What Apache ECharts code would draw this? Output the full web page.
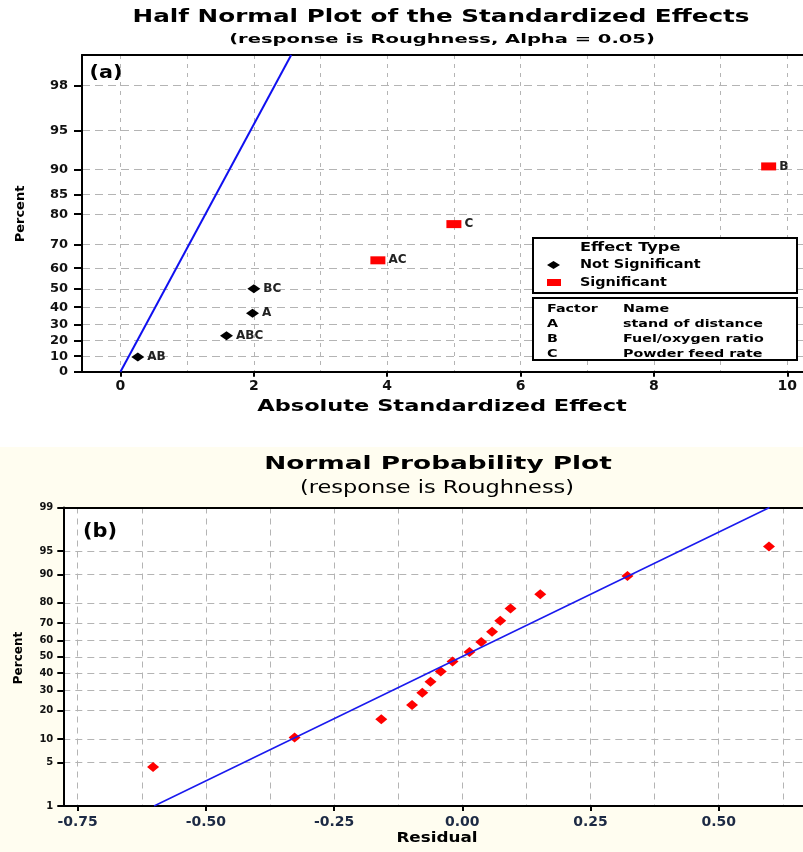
<!DOCTYPE html>
<html>
<head>
<meta charset="utf-8">
<script src="https://cdn.jsdelivr.net/npm/echarts@6/dist/echarts.min.js"></script>
<style>
  html, body { margin: 0; padding: 0; background: #fff; }
  #chart { width: 803px; height: 852px; }
</style>
</head>
<body>
<div id="chart"></div>
<script>
// (a) half normal plot of the standardized effects
const effectNames = ['AB', 'ABC', 'A', 'BC', 'AC', 'C', 'B']
const effectValues = [0.26, 1.59, 1.98, 2.0, 3.86, 5.0, 9.72]
const effectPercent = [9.5, 23.0, 36.5, 50.0, 63.5, 77.0, 90.5]
const effectSignificant = [false, false, false, false, true, true, true]
const halfLineEffect = [0, 2.56]
const halfLinePercent = [0, 99]
const halfPercentTicks = [0, 10, 20, 30, 40, 50, 60, 70, 80, 85, 90, 95, 98]
const halfEffectTicks = [0, 2, 4, 6, 8, 10]
const halfEffectGrid = [0, 1, 2, 3, 4, 5, 6, 7, 8, 9, 10]
const factorCodes = ['A', 'B', 'C']
const factorNames = ['stand of distance', 'Fuel/oxygen ratio', 'Powder feed rate']

// (b) normal probability plot of the residuals
const residuals = [-0.603, -0.327, -0.158, -0.098, -0.078, -0.062, -0.042, -0.019,
  0.014, 0.037, 0.058, 0.074, 0.094, 0.152, 0.322, 0.598]
const residualPercent = [4.3, 10.4, 16.5, 22.6, 28.7, 34.8, 40.9, 47.0,
  53.0, 59.1, 65.2, 71.3, 77.4, 83.5, 89.6, 95.7]
const fitResidual = [-0.601, 0.599]
const fitPercent = [1, 99]
const normPercentTicks = [1, 5, 10, 20, 30, 40, 50, 60, 70, 80, 90, 95, 99]
const residualTicks = [-0.75, -0.5, -0.25, 0, 0.25, 0.5]
const residualGrid = [-0.75, -0.625, -0.5, -0.375, -0.25, -0.125, 0, 0.125, 0.25, 0.375, 0.5, 0.625]

const FONT = "'DejaVu Sans', Verdana, sans-serif"

// inverse of the standard normal cdf (Acklam)
function probit(p) {
  const a = [-3.969683028665376e+01, 2.209460984245205e+02, -2.759285104469687e+02, 1.383577518672690e+02, -3.066479806614716e+01, 2.506628277459239e+00]
  const b = [-5.447609879822406e+01, 1.615858368580409e+02, -1.556989798598866e+02, 6.680131188771972e+01, -1.328068155288572e+01]
  const c = [-7.784894002430293e-03, -3.223964580411365e-01, -2.400758277161838e+00, -2.549732539343734e+00, 4.374664141464968e+00, 2.938163982698783e+00]
  const d = [7.784695709041462e-03, 3.224671290700398e-01, 2.445134137142996e+00, 3.754408661907416e+00]
  const pl = 0.02425
  if (p < pl) {
    const q = Math.sqrt(-2 * Math.log(p))
    return (((((c[0] * q + c[1]) * q + c[2]) * q + c[3]) * q + c[4]) * q + c[5]) / ((((d[0] * q + d[1]) * q + d[2]) * q + d[3]) * q + 1)
  }
  if (p > 1 - pl) {
    const q = Math.sqrt(-2 * Math.log(1 - p))
    return -(((((c[0] * q + c[1]) * q + c[2]) * q + c[3]) * q + c[4]) * q + c[5]) / ((((d[0] * q + d[1]) * q + d[2]) * q + d[3]) * q + 1)
  }
  const q = p - 0.5
  const r = q * q
  return (((((a[0] * r + a[1]) * r + a[2]) * r + a[3]) * r + a[4]) * r + a[5]) * q / (((((b[0] * r + b[1]) * r + b[2]) * r + b[3]) * r + b[4]) * r + 1)
}
const halfZ = (pct) => probit(0.5 + pct / 200)
const normZ = (pct) => probit(pct / 100)

function nearestLabel(ticks, toZ) {
  return (v) => {
    let best = ticks[0]
    ticks.forEach(t => { if (Math.abs(toZ(t) - v) < Math.abs(toZ(best) - v)) best = t })
    return String(best)
  }
}

function txt(text, x, y, size, sx, opts = {}) {
  return {
    type: 'text', x, y, scaleX: sx, rotation: opts.rotation || 0, z: 10,
    style: {
      text, fill: opts.color || '#000',
      font: `${opts.weight || 'bold'} ${size}px ${FONT}`,
      textAlign: opts.align || 'center', verticalAlign: 'middle'
    }
  }
}

const gridDash = (dash) => ({ show: true, lineStyle: { color: '#b4b4b4', width: 1, type: dash } })
const blackLine = { show: true, onZero: false, lineStyle: { color: '#000', width: 2 } }
const tickFont = (size) => ({ fontFamily: FONT, fontWeight: 'bold', fontSize: size, color: '#111' })

const chart = echarts.init(document.getElementById('chart'))

const pointLabel = {
  show: true, position: 'right', distance: 3, formatter: '{b}',
  fontFamily: FONT, fontWeight: 'bold', fontSize: 12, color: '#222'
}

const effectPoints = (sig) => effectNames
  .map((n, i) => ({ name: n, value: [effectValues[i], halfZ(effectPercent[i])], sig: effectSignificant[i] }))
  .filter(d => d.sig === sig)
  .map(d => ({ name: d.name, value: d.value }))

const halfZTicks = halfPercentTicks.map(halfZ)
const normZTicks = normPercentTicks.map(normZ)

const legendItems = [
  { type: 'rect', shape: { x: 533, y: 238, width: 264, height: 55 }, style: { fill: '#fff', stroke: '#000', lineWidth: 2 }, z: 5 },
  { type: 'rect', shape: { x: 533, y: 298, width: 264, height: 62 }, style: { fill: '#fff', stroke: '#000', lineWidth: 2 }, z: 5 },
  { type: 'polygon', shape: { points: [[547, 265], [553.5, 261], [560, 265], [553.5, 269]] }, style: { fill: '#000' }, z: 10 },
  { type: 'rect', shape: { x: 547, y: 279, width: 14, height: 7 }, style: { fill: '#ff0000' }, z: 10 },
  txt('Effect Type', 580, 248, 12, 1.35, { align: 'left' }),
  txt('Not Significant', 580, 265, 12, 1.2, { align: 'left' }),
  txt('Significant', 580, 283, 12, 1.2, { align: 'left' }),
  txt('Factor', 547, 309, 11, 1.3, { align: 'left' }),
  txt('Name', 623, 309, 11, 1.3, { align: 'left' })
]
factorCodes.forEach((code, i) => {
  legendItems.push(txt(code, 547, 324 + i * 15, 11, 1.3, { align: 'left' }))
  legendItems.push(txt(factorNames[i], 623, 324 + i * 15, 11, 1.3, { align: 'left' }))
})

const option = {
  animation: false,
  backgroundColor: '#fff',
  grid: [
    { left: 82, top: 55, width: 740, height: 316.7, show: true, backgroundColor: '#fff', borderWidth: 0, outerBoundsMode: 'none', containLabel: false },
    { left: 63.3, top: 507.5, width: 758, height: 298.5, show: true, backgroundColor: '#fff', borderWidth: 0, outerBoundsMode: 'none', containLabel: false }
  ],
  xAxis: [
    {
      type: 'value', gridIndex: 0, min: -0.577, max: 10.52, position: 'bottom',
      axisLine: blackLine,
      axisTick: { show: true, length: 5, customValues: halfEffectTicks, lineStyle: { color: '#000', width: 2 } },
      axisLabel: { customValues: halfEffectTicks, margin: 8, ...tickFont(14) },
      splitLine: { show: false }
    },
    {
      type: 'value', gridIndex: 0, min: -0.577, max: 10.52, position: 'top',
      axisLine: blackLine,
      axisTick: { show: false, customValues: halfEffectGrid },
      axisLabel: { show: false },
      splitLine: gridDash([4, 5])
    },
    {
      type: 'value', gridIndex: 1, min: -0.778, max: 0.7, position: 'bottom',
      axisLine: blackLine,
      axisTick: { show: true, length: 5, customValues: residualTicks, lineStyle: { color: '#000', width: 2 } },
      axisLabel: { customValues: residualTicks, margin: 9, formatter: (v) => v.toFixed(2), ...tickFont(14), color: '#1d2a44' },
      splitLine: { show: false }
    },
    {
      type: 'value', gridIndex: 1, min: -0.778, max: 0.7, position: 'top',
      axisLine: blackLine,
      axisTick: { show: false, customValues: residualGrid },
      axisLabel: { show: false },
      splitLine: gridDash([6, 5])
    }
  ],
  yAxis: [
    {
      type: 'value', gridIndex: 0, min: 0, max: halfZ(99),
      axisLine: blackLine,
      axisTick: { show: true, length: 8, customValues: halfZTicks, lineStyle: { color: '#000', width: 2 } },
      axisLabel: { customValues: halfZTicks, margin: 14, formatter: nearestLabel(halfPercentTicks, halfZ), ...tickFont(13) },
      splitLine: gridDash([8, 5])
    },
    {
      type: 'value', gridIndex: 1, min: normZ(1), max: normZ(99),
      axisLine: blackLine,
      axisTick: { show: true, length: 6, customValues: normZTicks, lineStyle: { color: '#000', width: 2 } },
      axisLabel: { customValues: normZTicks, margin: 10, formatter: nearestLabel(normPercentTicks, normZ), ...tickFont(10) },
      splitLine: gridDash([7, 5])
    }
  ],
  series: [
    {
      type: 'line', xAxisIndex: 0, yAxisIndex: 0, symbol: 'none', clip: true,
      data: halfLineEffect.map((x, i) => [x, halfZ(halfLinePercent[i])]),
      lineStyle: { color: '#1010f0', width: 2 }, emphasis: { disabled: true }
    },
    {
      name: 'Not Significant', type: 'scatter', xAxisIndex: 0, yAxisIndex: 0,
      symbol: 'diamond', symbolSize: [13, 9], itemStyle: { color: '#000', opacity: 1 },
      data: effectPoints(false), label: pointLabel, emphasis: { disabled: true }
    },
    {
      name: 'Significant', type: 'scatter', xAxisIndex: 0, yAxisIndex: 0,
      symbol: 'rect', symbolSize: [15, 8], itemStyle: { color: '#ff0000', opacity: 1 },
      data: effectPoints(true), label: pointLabel, emphasis: { disabled: true }
    },
    {
      type: 'line', xAxisIndex: 2, yAxisIndex: 1, symbol: 'none', clip: true,
      data: fitResidual.map((x, i) => [x, normZ(fitPercent[i])]),
      lineStyle: { color: '#1a1aee', width: 1.5 }, emphasis: { disabled: true }
    },
    {
      type: 'scatter', xAxisIndex: 2, yAxisIndex: 1,
      symbol: 'diamond', symbolSize: [12, 10], itemStyle: { color: '#ff0000', opacity: 1 },
      data: residuals.map((r, i) => [r, normZ(residualPercent[i])]), emphasis: { disabled: true }
    }
  ],
  graphic: [
    { type: 'rect', shape: { x: 0, y: 447, width: 803, height: 405 }, style: { fill: '#fffdf0' }, z: -10 },
    txt('Half Normal Plot of the Standardized Effects', 441, 18, 17, 1.45),
    txt('(response is Roughness, Alpha = 0.05)', 442, 40, 13, 1.5),
    txt('Absolute Standardized Effect', 442, 407, 15, 1.5),
    txt('Percent', 21, 214, 13, 1, { rotation: Math.PI / 2 }),
    txt('(a)', 106, 73, 18, 1.15),
    txt('Normal Probability Plot', 438, 465, 17, 1.55),
    txt('(response is Roughness)', 437, 489, 17, 1.32, { weight: 'normal' }),
    txt('Residual', 437, 838, 14, 1.2),
    txt('Percent', 19, 658, 12, 1, { rotation: Math.PI / 2 }),
    txt('(b)', 100, 532, 19, 1.1),
    ...legendItems
  ]
}

chart.setOption(option)
</script>
</body>
</html>
